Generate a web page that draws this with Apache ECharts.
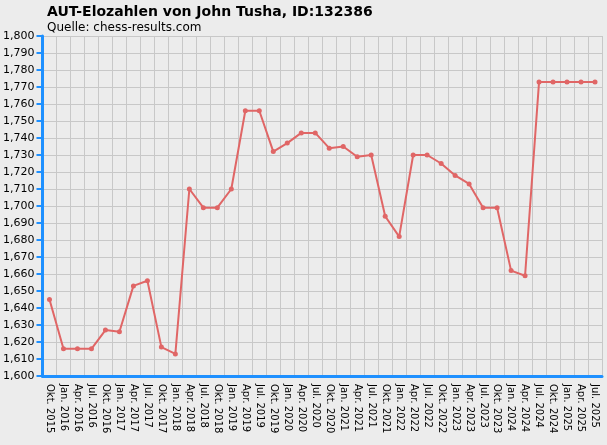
<!DOCTYPE html><html><head><meta charset="utf-8"><script src="https://cdn.jsdelivr.net/npm/echarts@6/dist/echarts.min.js"></script>
<style>body{margin:0;background:#ececec}#c{width:607px;height:445px}</style></head><body><div id="c"></div><script>
const categories=["Okt. 2015","Jan. 2016","Apr. 2016","Jul. 2016","Okt. 2016","Jan. 2017","Apr. 2017","Jul. 2017","Okt. 2017","Jan. 2018","Apr. 2018","Jul. 2018","Okt. 2018","Jan. 2019","Apr. 2019","Jul. 2019","Okt. 2019","Jan. 2020","Apr. 2020","Jul. 2020","Okt. 2020","Jan. 2021","Apr. 2021","Jul. 2021","Okt. 2021","Jan. 2022","Apr. 2022","Jul. 2022","Okt. 2022","Jan. 2023","Apr. 2023","Jul. 2023","Okt. 2023","Jan. 2024","Apr. 2024","Jul. 2024","Okt. 2024","Jan. 2025","Apr. 2025","Jul. 2025"];
const elo=[1645,1616,1616,1616,1627,1626,1653,1656,1617,1613,1710,1699,1699,1710,1756,1756,1732,1737,1743,1743,1734,1735,1729,1730,1694,1682,1730,1730,1725,1718,1713,1699,1699,1662,1659,1773,1773,1773,1773,1773];
const ch=echarts.init(document.getElementById('c'));
ch.setOption({backgroundColor:'#ececec',animation:false,
title:{text:'AUT-Elozahlen von John Tusha, ID:132386',subtext:'Quelle: chess-results.com',left:42,top:0,itemGap:3,
textStyle:{fontFamily:'DejaVu Sans',fontWeight:'bold',fontSize:14,color:'#000'},subtextStyle:{fontFamily:'DejaVu Sans',fontSize:12,color:'#000'}},
grid:{left:41,right:5,top:36,bottom:69},
xAxis:{type:'category',data:categories,boundaryGap:true,
axisLine:{lineStyle:{color:'#1e90ff',width:3}},axisTick:{alignWithLabel:true,length:6,lineStyle:{color:'#1e90ff',width:2}},
axisLabel:{rotate:-90,interval:0,fontFamily:'DejaVu Sans',fontSize:10,color:'#000',margin:8},
splitLine:{show:true,interval:0,lineStyle:{color:'#c8c8c8'}}},
yAxis:{type:'value',min:1600,max:1800,interval:10,
axisLine:{show:true,lineStyle:{color:'#1e90ff',width:3}},axisTick:{show:true,length:6,lineStyle:{color:'#1e90ff',width:2}},
axisLabel:{fontFamily:'DejaVu Sans',fontSize:11,color:'#000',margin:8},splitLine:{lineStyle:{color:'#c8c8c8'}}},
series:[{type:'line',data:elo,symbol:'circle',symbolSize:5,lineStyle:{color:'#e06666',width:2},itemStyle:{color:'#e06666'}}]});
</script></body></html>
